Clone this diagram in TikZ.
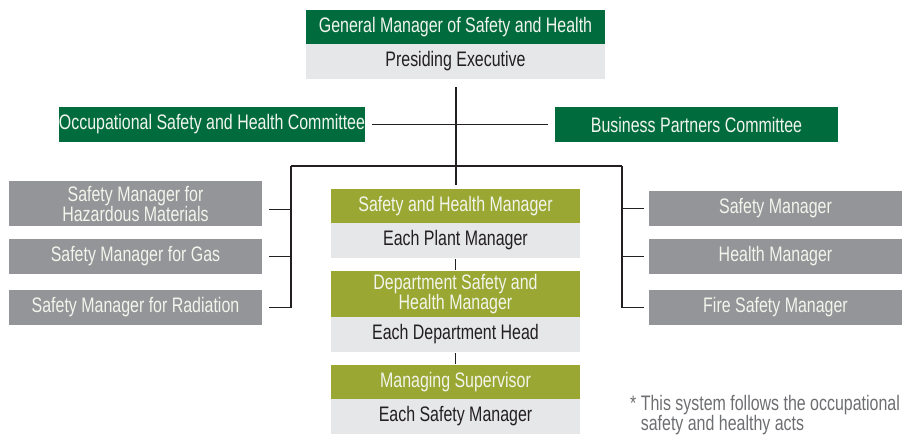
\documentclass[tikz,border=0pt]{standalone}
\usepackage{fontspec}
\setmainfont{Liberation Sans}[FakeStretch=0.76]
\definecolor{darkgreen}{HTML}{006C3D}
\definecolor{olive}{HTML}{9AA732}
\definecolor{midgray}{HTML}{939598}
\definecolor{lightgray}{HTML}{E6E7E9}
\definecolor{ink}{HTML}{231F20}
\definecolor{notegray}{HTML}{6D6E71}
\definecolor{paper}{HTML}{F2F5EC}
\begin{document}
\begin{tikzpicture}[x=1pt,y=-1pt,
  box/.style={rectangle, inner sep=0pt, align=center, font=\fontsize{21}{20}\selectfont},
  headbox/.style={box, fill=darkgreen, text=paper},
  rolebox/.style={box, fill=olive, text=paper},
  sidebox/.style={box, fill=midgray, text=paper},
  namebox/.style={box, fill=lightgray, text=ink},
  link/.style={draw=ink, line width=1.1pt}]
\useasboundingbox (0,0) rectangle (920,434);

% Top: general manager
\node[headbox, minimum width=299pt, minimum height=34pt] (gm) at (455.5,27) {General Manager of Safety and Health};
\node[namebox, minimum width=299pt, minimum height=35pt] (pe) at (455.5,61.5) {Presiding Executive};

% Committees
\node[headbox, minimum width=298pt, minimum height=35pt] (osh) at (212,124.5) {Occupational Safety and Health Committee};
\node[headbox, minimum width=283pt, minimum height=35pt] (bpc) at (696.5,124.5) {Business Partners Committee};

% Left column
\node[sidebox, minimum width=253pt, minimum height=45pt] (haz) at (135.5,203.5) {Safety Manager for\\Hazardous Materials};
\node[sidebox, minimum width=253pt, minimum height=35pt] (gas) at (135.5,256.5) {Safety Manager for Gas};
\node[sidebox, minimum width=253pt, minimum height=35pt] (rad) at (135.5,307.5) {Safety Manager for Radiation};

% Right column
\node[sidebox, minimum width=253pt, minimum height=35pt] (sfm) at (775.5,208.5) {Safety Manager};
\node[sidebox, minimum width=253pt, minimum height=35pt] (hlm) at (775.5,256.5) {Health Manager};
\node[sidebox, minimum width=253pt, minimum height=35pt] (fsm) at (775.5,307.5) {Fire Safety Manager};

% Middle column
\node[rolebox, minimum width=249pt, minimum height=34pt] (shm) at (455.5,206) {Safety and Health Manager};
\node[namebox, minimum width=249pt, minimum height=35pt] (eph) at (455.5,240.5) {Each Plant Manager};
\node[rolebox, minimum width=249pt, minimum height=46pt] (dsh) at (455.5,294) {Department Safety and\\Health Manager};
\node[namebox, minimum width=249pt, minimum height=35pt] (edh) at (455.5,334.5) {Each Department Head};
\node[rolebox, minimum width=249pt, minimum height=34pt] (msv) at (455.5,382) {Managing Supervisor};
\node[namebox, minimum width=249pt, minimum height=35pt] (esm) at (455.5,416.5) {Each Safety Manager};

% Footnote
\node[anchor=north west, align=left, inner sep=0pt, text=notegray, font=\fontsize{21}{17}\selectfont] (note) at (630,395) {* This system follows the occupational\\\phantom{* }safety and healthy acts};

% Connectors
\coordinate (trunk) at (456,87);
\coordinate (lbr) at (291,166);
\coordinate (rbr) at (622,166);
\coordinate (hazc) at ([yshift=-6pt]haz.east);
\draw[link, shorten >=4pt] (trunk) -- (trunk |- shm.north);
\draw[link, shorten <=7pt, shorten >=7pt] (osh.east) -- (bpc.west);
\draw[link] (lbr) -- (rbr);
\draw[link] (lbr) |- ([xshift=7pt]rad.east);
\draw[link] (lbr |- gas.east) -- ([xshift=7pt]gas.east);
\draw[link] (lbr |- hazc) -- ([xshift=7pt]hazc);
\draw[link] (rbr) |- ([xshift=-5pt]fsm.west);
\draw[link] (rbr |- hlm.west) -- ([xshift=-5pt]hlm.west);
\draw[link] (rbr |- sfm.west) -- ([xshift=-5pt]sfm.west);
\draw[link, shorten <=1pt, shorten >=1pt] (eph.south) -- (dsh.north);
\draw[link, shorten <=1pt, shorten >=1pt] (edh.south) -- (msv.north);
\end{tikzpicture}
\end{document}
